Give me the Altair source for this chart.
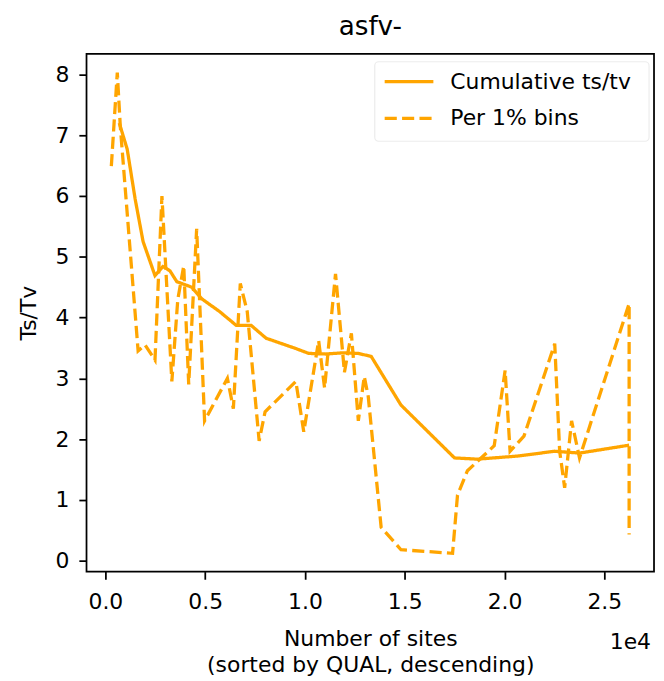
import altair as alt
import pandas as pd

# ---- data ----
series_names = ["Cumulative ts/tv", "Per 1% bins"]

cum_x = [696, 1093, 1491, 1889, 2485, 2883, 3231, 3579, 4324, 4821, 5716, 6561,
         7306, 8052, 9543, 10189, 11034, 11928, 12674, 13320, 14811, 17495, 18638,
         20626, 22515, 23757, 26243]
cum_y = [7.2, 6.77, 5.95, 5.25, 4.69, 4.84, 4.77, 4.59, 4.5, 4.31, 4.1, 3.87,
         3.87, 3.66, 3.49, 3.41, 3.4, 3.42, 3.41, 3.36, 2.56, 1.69, 1.67,
         1.72, 1.8, 1.77, 1.9]

bin_x = [298, 596, 746, 1640, 1988, 2485, 2833, 3330, 3628, 3926, 4175, 4573,
         4970, 6113, 6412, 6759, 7107, 7704, 8002, 9543, 9940, 10686, 10984,
         11531, 11978, 12326, 12674, 12972, 13171, 13817, 14811, 17396, 17644,
         18141, 19483, 20030, 20278, 20974, 22515, 22763, 23012, 23360, 23757,
         26243, 26243]
bin_y = [6.49, 8.03, 7.15, 3.45, 3.55, 3.3, 6.0, 2.95, 4.3, 4.85, 2.9, 5.46,
         2.3, 3.0, 2.5, 4.56, 4.1, 1.97, 2.45, 2.95, 2.12, 3.62, 2.84,
         4.72, 3.1, 3.74, 2.3, 3.03, 2.7, 0.55, 0.18, 0.12, 1.08,
         1.48, 1.89, 3.13, 1.8, 2.05, 3.57, 1.8, 1.2, 2.3, 1.69,
         4.23, 0.43]

x_ticks = [0, 5000, 10000, 15000, 20000, 25000]
y_ticks = [0, 1, 2, 3, 4, 5, 6, 7, 8]

rows = []
for i, (x, y) in enumerate(zip(cum_x, cum_y)):
    rows.append({"x": x, "y": y, "series": series_names[0], "idx": i})
for i, (x, y) in enumerate(zip(bin_x, bin_y)):
    rows.append({"x": x, "y": y, "series": series_names[1], "idx": i})
df = pd.DataFrame(rows)

ORANGE = "#FFA500"
FONT = "DejaVu Sans"
LW = 3.3
DASH = [12.2, 5.3]

W, H = 571, 521

lines = alt.Chart(df).mark_line(strokeWidth=LW, color=ORANGE).encode(
    x=alt.X("x:Q",
            scale=alt.Scale(domain=[-946, 27490], nice=False, zero=False),
            axis=alt.Axis(values=x_ticks,
                          labelExpr="format(datum.value/10000,'.1f')",
                          title=["Number of sites", "(sorted by QUAL, descending)"],
                          labelPadding=12, titlePadding=17, titleLineHeight=26)),
    y=alt.Y("y:Q",
            scale=alt.Scale(domain=[-0.18, 8.34], nice=False, zero=False),
            axis=alt.Axis(values=y_ticks, format="d", title="Ts/Tv",
                          labelPadding=10, titlePadding=15)),
    strokeDash=alt.StrokeDash("series:N",
                              scale=alt.Scale(domain=series_names, range=[[1, 0], DASH]),
                              legend=None),
    order="idx:Q",
)

one = pd.DataFrame({"a": [0]})
base = alt.Chart(one)

legend_box = base.mark_rect(fill="white", stroke="#ebebeb", strokeWidth=1.2,
                            cornerRadius=4, opacity=0.9).encode(
    x=alt.value(290), x2=alt.value(566), y=alt.value(8), y2=alt.value(88))
leg_solid = base.mark_rule(color=ORANGE, strokeWidth=LW).encode(
    x=alt.value(300), x2=alt.value(349), y=alt.value(28))
leg_dash = base.mark_rule(color=ORANGE, strokeWidth=LW, strokeDash=DASH).encode(
    x=alt.value(300), x2=alt.value(349), y=alt.value(65))
leg_t1 = base.mark_text(align="left", baseline="middle", font=FONT, fontSize=22,
                        color="black", text=series_names[0]).encode(
    x=alt.value(366), y=alt.value(28))
leg_t2 = base.mark_text(align="left", baseline="middle", font=FONT, fontSize=22,
                        color="black", text=series_names[1]).encode(
    x=alt.value(366), y=alt.value(65))
offset_txt = base.mark_text(align="right", baseline="middle", font=FONT, fontSize=22,
                            color="black", text="1e4").encode(
    x=alt.value(568), y=alt.value(592))

chart = alt.layer(lines, legend_box, leg_solid, leg_dash, leg_t1, leg_t2, offset_txt).properties(
    width=W, height=H,
    title=alt.TitleParams("asfv-", fontSize=26.4, font=FONT, fontWeight="normal",
                          color="black", offset=14, frame="group", anchor="middle"),
    autosize=alt.AutoSizeParams(type="none"),
    padding={"left": 79, "top": 44, "right": 2, "bottom": 105},
).configure_view(
    stroke="black", strokeWidth=1.76
).configure_axis(
    domain=False, grid=False, tickColor="black", tickWidth=1.76, tickSize=7.7,
    labelFont=FONT, labelFontSize=22, labelColor="black",
    titleFont=FONT, titleFontSize=22, titleColor="black", titleFontWeight="normal",
)

chart.save("out.html", embed_options={"renderer": "svg", "actions": False})
